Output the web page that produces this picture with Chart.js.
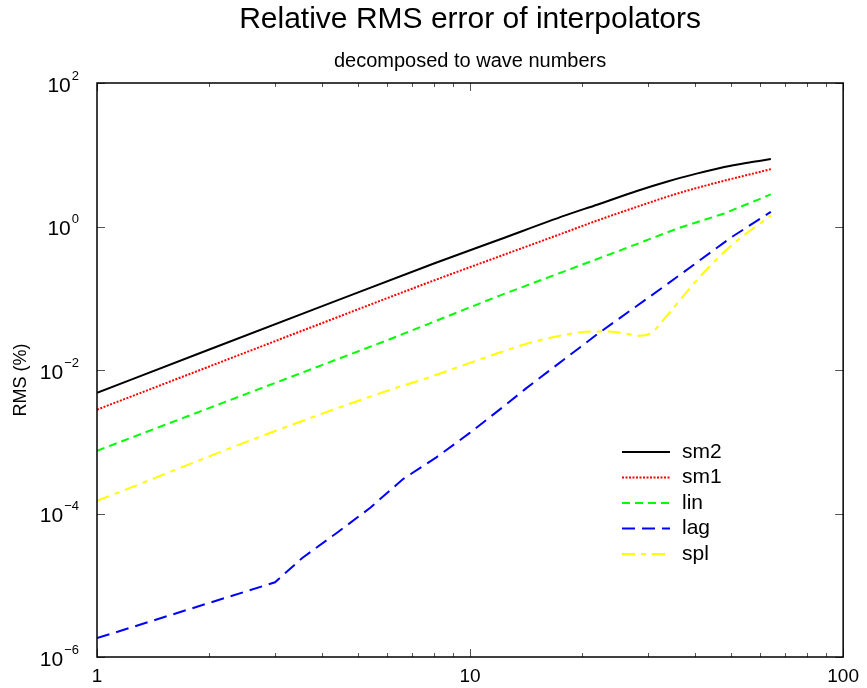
<!DOCTYPE html>
<html><head><meta charset="utf-8">
<script src="https://cdn.jsdelivr.net/npm/chart.js@4"></script>
<style>html,body{margin:0;padding:0;background:#fff;overflow:hidden}</style>
</head><body>
<canvas id="c" width="867" height="688" style="display:block;width:867px;height:688px"></canvas>
<script>
const FONT = "'Liberation Sans', Arial, Helvetica, sans-serif";

const titleText = 'Relative RMS error of interpolators';
const subtitleText = 'decomposed to wave numbers';
const yAxisTitle = 'RMS (%)';

const seriesNames = ['sm2', 'sm1', 'lin', 'lag', 'spl'];

const sm2X = [1, 2, 4, 8, 12, 18, 22, 28, 34, 40, 48, 56, 64];
const sm2Y = [0.0048, 0.0193, 0.077, 0.305, 0.66, 1.43, 2.03, 3.13, 4.28, 5.37, 6.75, 7.8, 8.7];

const sm1X = [1, 2, 4, 8, 12, 18, 22, 28, 34, 40, 48, 56, 64];
const sm1Y = [0.0028, 0.0112, 0.0448, 0.177, 0.384, 0.83, 1.22, 1.88, 2.63, 3.38, 4.35, 5.3, 6.3];

const linX = [1, 3, 6, 12, 24, 36, 48, 64];
const linY = [0.00075, 0.0066, 0.026, 0.109, 0.42, 0.94, 1.52, 2.8];

const lagX = [1, 3, 3.55, 4.4, 5.4, 6.6, 8.1, 10, 12.2, 14.1, 15.3, 22, 33.4, 50, 64];
const lagY = [1.83e-6, 1.1e-5, 2.4e-5, 5.4e-5, 1.2e-4, 3.0e-4, 6.0e-4, 1.34e-3, 3.0e-3, 5.5e-3, 7.6e-3, 0.032, 0.151, 0.70, 1.6];

const splX = [1, 3, 6.5, 7.3, 12, 14.6, 18.1, 21.2, 23.5, 26, 28.5, 30.7, 33.4, 37.8, 42.8, 50.2, 64];
const splY = [1.5e-4, 1.41e-3, 5.9e-3, 7.1e-3, 0.0175, 0.0242, 0.0312, 0.0344, 0.0344, 0.0324, 0.0300, 0.0333, 0.054, 0.117, 0.244, 0.546, 1.43];

const xTickValues = [1,2,3,4,5,6,7,8,9,10,20,30,40,50,60,70,80,90,100];
const xTickLabels = ['1','','','','','','','','','10','','','','','','','','','100'];
const yTickValues = [1e-6, 1e-4, 1e-2, 1, 1e2];
const yTickBase = ['10','10','10','10','10'];
const yTickExp = ['\u22126', '\u22124', '\u22122', '0', '2'];

function pts(xs, ys) { return xs.map((x, i) => ({ x: x, y: ys[i] })); }

const styles = [
  { color: '#000000', dash: [] },
  { color: '#ff0000', dash: [2, 1.5] },
  { color: '#00ff00', dash: [8, 5] },
  { color: '#0000ff', dash: [13, 7] },
  { color: '#ffff00', dash: [13, 6, 5, 6] }
];
const seriesData = [pts(sm2X, sm2Y), pts(sm1X, sm1Y), pts(linX, linY), pts(lagX, lagY), pts(splX, splY)];
const smooth = [true, true, false, false, true];

const datasets = seriesNames.map((n, i) => ({
  label: n,
  data: seriesData[i],
  showLine: true,
  borderColor: styles[i].color,
  backgroundColor: styles[i].color,
  borderWidth: 2,
  borderDash: styles[i].dash,
  pointRadius: 0,
  fill: false,
  cubicInterpolationMode: smooth[i] ? 'monotone' : 'default',
  tension: 0
}));

function isDecade(v) { const l = Math.log10(v); return Math.abs(l - Math.round(l)) < 1e-9; }

const framePlugin = {
  id: 'frame',
  afterDraw(chart) {
    const { ctx, chartArea: a, scales } = chart;
    const xs = scales.x, ys = scales.y;
    ctx.save();
    // tick marks (inward, mirrored)
    ctx.strokeStyle = '#555555';
    ctx.lineWidth = 1;
    ctx.beginPath();
    xTickValues.forEach(v => {
      const px = Math.round(xs.getPixelForValue(v)) + 0.5;
      const L = isDecade(v) ? 8 : 4;
      ctx.moveTo(px, a.bottom); ctx.lineTo(px, a.bottom - L);
      ctx.moveTo(px, a.top); ctx.lineTo(px, a.top + L);
    });
    yTickValues.forEach(v => {
      const py = Math.round(ys.getPixelForValue(v)) + 0.5;
      ctx.moveTo(a.left, py); ctx.lineTo(a.left + 8, py);
      ctx.moveTo(a.right, py); ctx.lineTo(a.right - 8, py);
    });
    ctx.stroke();
    // frame
    ctx.strokeStyle = '#000000';
    ctx.lineWidth = 1.5;
    ctx.strokeRect(a.left, a.top, a.right - a.left, a.bottom - a.top);
    // y tick labels with superscripts
    ctx.fillStyle = '#000000';
    ctx.textBaseline = 'alphabetic';
    ctx.textAlign = 'left';
    const rightEdge = a.left - 18;
    yTickValues.forEach((v, i) => {
      const py = ys.getPixelForValue(v);
      ctx.font = '13px ' + FONT;
      const ew = ctx.measureText(yTickExp[i]).width;
      ctx.font = '21px ' + FONT;
      const bw = ctx.measureText(yTickBase[i]).width;
      const bx = rightEdge - ew - bw - 1;
      ctx.fillText(yTickBase[i], bx, py + 8.5);
      ctx.font = '13px ' + FONT;
      ctx.fillText(yTickExp[i], bx + bw + 1, py - 3.5);
    });
    // y axis title
    ctx.save();
    ctx.translate(21, 380);
    ctx.rotate(-Math.PI / 2);
    ctx.font = '18px ' + FONT;
    ctx.textAlign = 'center';
    ctx.textBaseline = 'middle';
    ctx.fillText(yAxisTitle, 0, 0);
    ctx.restore();
    // legend
    const lx0 = 622, lx1 = 670, tx = 682, ly0 = 452, dy = 25.5;
    chart.data.datasets.forEach((ds, i) => {
      const yy = ly0 + i * dy;
      ctx.strokeStyle = ds.borderColor;
      ctx.lineWidth = ds.borderWidth;
      ctx.setLineDash(ds.borderDash || []);
      ctx.beginPath(); ctx.moveTo(lx0, yy); ctx.lineTo(lx1, yy); ctx.stroke();
      ctx.setLineDash([]);
      ctx.fillStyle = '#000000';
      ctx.font = '21px ' + FONT;
      ctx.textAlign = 'left';
      ctx.textBaseline = 'middle';
      ctx.fillText(ds.label, tx, yy);
    });
    ctx.restore();
  }
};

Chart.defaults.font.family = FONT;
Chart.defaults.color = '#000000';

new Chart(document.getElementById('c'), {
  type: 'scatter',
  data: { datasets: datasets },
  options: {
    responsive: false,
    animation: false,
    devicePixelRatio: 1,
    layout: { padding: { left: 0, right: 21, top: 0, bottom: 0 } },
    plugins: {
      legend: { display: false },
      tooltip: { enabled: false },
      title: {
        display: true, text: titleText, fullSize: false,
        font: { size: 30, weight: 'normal' }, color: '#000',
        padding: { top: 2, bottom: 0 }
      },
      subtitle: {
        display: true, text: subtitleText, fullSize: false,
        font: { size: 20, weight: 'normal' }, color: '#000',
        padding: { top: 11, bottom: 10 }
      }
    },
    scales: {
      x: {
        type: 'logarithmic', min: 1, max: 100,
        grid: { display: false, drawTicks: false },
        border: { display: false },
        afterBuildTicks: (s) => { s.ticks = xTickValues.map(v => ({ value: v, major: isDecade(v) })); },
        afterFit: (s) => { s.height = 31; },
        ticks: {
          autoSkip: false, maxRotation: 0, padding: 8,
          font: { size: 19 }, color: '#000',
          callback: (v) => { const i = xTickValues.indexOf(v); return i >= 0 ? xTickLabels[i] : ''; }
        }
      },
      y: {
        type: 'logarithmic', min: 1e-6, max: 1e2,
        grid: { display: false, drawTicks: false },
        border: { display: false },
        afterBuildTicks: (s) => { s.ticks = yTickValues.map(v => ({ value: v, major: true })); },
        afterFit: (s) => { s.width = 97; },
        ticks: { display: false },
        title: { display: false }
      }
    }
  },
  plugins: [framePlugin]
});
</script>
</body></html>
